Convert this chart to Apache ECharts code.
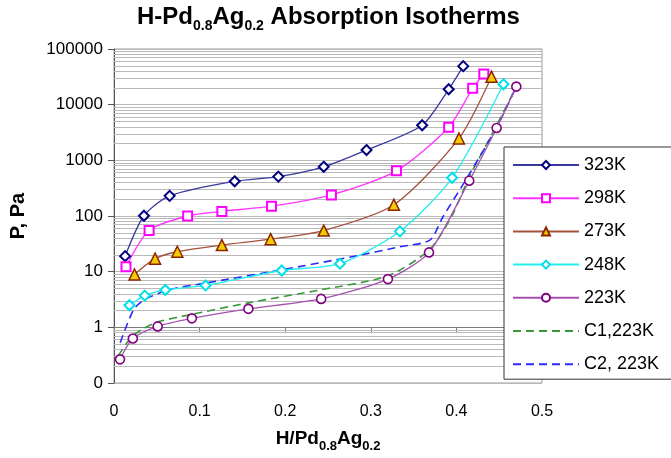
<!DOCTYPE html>
<html>
<head>
<meta charset="utf-8">
<style>
  html, body { margin: 0; padding: 0; background: #fff; }
  #chart { width: 671px; height: 458px; }
</style>
<script src="https://cdn.jsdelivr.net/npm/echarts@6/dist/echarts.min.js"></script>
</head>
<body>
<div id="chart"></div>
<script>
// Hydrogen loading (H/Pd0.8Ag0.2) and equilibrium pressure (Pa) for each isotherm
const x323 = [0.013, 0.035, 0.065, 0.141, 0.192, 0.245, 0.295, 0.360, 0.391, 0.408];
const p323 = [19, 101, 230, 420, 510, 765, 1530, 4270, 18900, 49200];

const x298 = [0.014, 0.041, 0.086, 0.126, 0.184, 0.254, 0.330, 0.391, 0.419, 0.432];
const p298 = [12.2, 55, 100, 121, 150, 239, 648, 3930, 19700, 35500];

const x273 = [0.024, 0.048, 0.074, 0.126, 0.183, 0.245, 0.327, 0.403, 0.441];
const p273 = [8.9, 17.1, 22.8, 30, 38.3, 54.7, 159, 2470, 31800];

const x248 = [0.018, 0.036, 0.060, 0.107, 0.196, 0.264, 0.334, 0.395, 0.455];
const p248 = [2.49, 3.71, 4.69, 5.66, 10.5, 13.9, 53, 486, 23200];

const x223 = [0.007, 0.022, 0.051, 0.091, 0.157, 0.242, 0.320, 0.368, 0.415, 0.447, 0.470];
const p223 = [0.266, 0.63, 1.04, 1.45, 2.15, 3.24, 7.36, 22.2, 430, 3820, 21100];

// Calculated curves for 223K
const xC1 = [0.005, 0.020, 0.033, 0.050, 0.090, 0.157, 0.242, 0.320, 0.368, 0.394, 0.415, 0.447, 0.470];
const pC1 = [0.31, 0.66, 0.92, 1.24, 1.70, 2.75, 4.74, 8.4, 24.4, 95, 500, 4270, 21100];

const xC2 = [0.0073, 0.023, 0.036, 0.064, 0.107, 0.196, 0.276, 0.334, 0.369, 0.384, 0.410, 0.447, 0.470];
const pC2 = [0.53, 2.09, 3.15, 4.74, 6.24, 10.8, 18.3, 28, 36.8, 95, 420, 3900, 21100];

const markedNames = ['323K', '298K', '273K', '248K', '223K'];
const dashedNames = ['C1,223K', 'C2, 223K'];

// Axis ranges and tick settings
const xMin = 0, xMax = 0.5, xStep = 0.1;
const pMin = 0.1, pMax = 100000;
const decadeBases = [0.1, 1, 10, 100, 1000, 10000];
const minorMultipliers = [2, 3, 4, 5, 6, 7, 8, 9];

const FONT = '"Liberation Sans", Arial, Helvetica, sans-serif';
const GRID_COLOR = '#b9b9b9';

const pairs = (xs, ys) => xs.map((x, i) => [x, ys[i]]);
const minorGrid = [];
decadeBases.forEach(b => minorMultipliers.forEach(m => minorGrid.push({ yAxis: +(b * m).toPrecision(6) })));

function markerSeries(name, xs, ys, lineColor, symbol, size, border, fill, borderWidth) {
  return {
    name, type: 'line', data: pairs(xs, ys),
    smooth: 0.25,
    symbol, symbolSize: size, showSymbol: true,
    lineStyle: { color: lineColor, width: 1.3 },
    itemStyle: { color: fill, borderColor: border, borderWidth: borderWidth },
    z: 3
  };
}

function dashedSeries(name, xs, ys, color) {
  return {
    name, type: 'line', data: pairs(xs, ys),
    smooth: 0.25, symbol: 'none',
    lineStyle: { color, width: 1.6, type: [8, 5] },
    itemStyle: { color },
    z: 2
  };
}

// legend entries: dashed curves show only their line
const legendData = markedNames.map(n => ({ name: n }))
  .concat(dashedNames.map(n => ({ name: n, itemStyle: { opacity: 0 } })));

const chart = echarts.init(document.getElementById('chart'), null, { renderer: 'canvas' });

const option = {
  animation: false,
  backgroundColor: '#fff',
  title: {
    left: 137, top: 2, padding: 0,
    text: '{a|H-Pd}{s|0.8}{a|Ag}{s|0.2}{a| Absorption Isotherms}',
    textStyle: {
      rich: {
        a: { fontFamily: FONT, fontWeight: 'bold', fontSize: 24, lineHeight: 31, color: '#000' },
        s: { fontFamily: FONT, fontWeight: 'bold', fontSize: 14, lineHeight: 17, verticalAlign: 'bottom', color: '#000' }
      }
    }
  },
  legend: {
    data: legendData,
    orient: 'vertical', left: 504, top: 147,
    itemWidth: 66, itemHeight: 10, itemGap: 15.2,
    padding: [9, 70, 6, 8],
    backgroundColor: '#fff', borderColor: '#333', borderWidth: 1,
    textStyle: { fontFamily: FONT, fontSize: 18, color: '#000' }
  },
  grid: {
    left: 112, right: 129, top: 49, bottom: 73,
    show: true, borderColor: '#9a9a9a', borderWidth: 1, backgroundColor: '#fff'
  },
  xAxis: [
    {
      type: 'value', min: xMin, max: xMax, interval: xStep,
      position: 'bottom',
      axisLine: { show: false },
      axisTick: { show: false },
      splitLine: { show: false },
      axisLabel: { fontFamily: FONT, fontSize: 16, color: '#000', margin: 21,
        formatter: v => String(+v.toFixed(1)) },
      name: '{a|H/Pd}{s|0.8}{a|Ag}{s|0.2}',
      nameLocation: 'middle', nameGap: 42,
      nameTextStyle: {
        rich: {
          a: { fontFamily: FONT, fontWeight: 'bold', fontSize: 19, lineHeight: 28, color: '#000' },
          s: { fontFamily: FONT, fontWeight: 'bold', fontSize: 13, lineHeight: 14, verticalAlign: 'bottom', color: '#000' }
        }
      }
    },
    {
      // horizontal axis crossing the vertical axis at P = 1
      type: 'value', min: xMin, max: xMax, interval: xStep,
      position: 'bottom', offset: 0,
      axisLine: { show: true, lineStyle: { color: '#7a7a7a', width: 1 } },
      axisTick: { show: true, length: 5, lineStyle: { color: '#7a7a7a' } },
      axisLabel: { show: false },
      splitLine: { show: false }
    }
  ],
  yAxis: {
    type: 'log', logBase: 10, min: pMin, max: pMax,
    axisLine: { show: true, lineStyle: { color: '#555', width: 1 } },
    axisTick: { show: true, length: 6, lineStyle: { color: '#555' } },
    splitLine: { show: true, lineStyle: { color: GRID_COLOR, width: 1 } },
    axisLabel: { fontFamily: FONT, fontSize: 17, color: '#000', margin: 11,
      formatter: v => (v < 1 ? '0' : String(Math.round(v))) },
    name: 'P, Pa', nameLocation: 'middle', nameGap: 86, nameRotate: 90,
    nameTextStyle: { fontFamily: FONT, fontWeight: 'bold', fontSize: 20, color: '#000' }
  },
  series: [
    {
      name: 'minor-grid', type: 'line', data: [], silent: true, z: 1,
      markLine: {
        silent: true, symbol: ['none', 'none'], label: { show: false },
        lineStyle: { color: GRID_COLOR, width: 1, type: 'solid' },
        emphasis: { disabled: true },
        z: 1,
        data: minorGrid
      }
    },
    markerSeries('323K', x323, p323, '#3a3a9e', 'diamond', 10, '#000080', '#fff', 2),
    markerSeries('298K', x298, p298, '#ff33ff', 'rect', 9, '#ff00ff', '#fff', 2),
    markerSeries('273K', x273, p273, '#a5503a', 'triangle', 11, '#8b2500', '#f2cc00', 1.5),
    markerSeries('248K', x248, p248, '#22eeee', 'diamond', 10, '#00e0e8', '#fff', 2),
    markerSeries('223K', x223, p223, '#a550b0', 'circle', 9, '#800080', '#fff', 1.6),
    dashedSeries('C1,223K', xC1, pC1, '#3a9a3a'),
    dashedSeries('C2, 223K', xC2, pC2, '#2a2aff')
  ]
};

chart.setOption(option);

// place the crossing axis at P = 1 using the chart's own scale
const yAtOne = chart.convertToPixel({ yAxisIndex: 0 }, 1);
const yAtBottom = chart.convertToPixel({ yAxisIndex: 0 }, pMin);
chart.setOption({ xAxis: [{}, { offset: yAtOne - yAtBottom }] });
</script>
</body>
</html>
